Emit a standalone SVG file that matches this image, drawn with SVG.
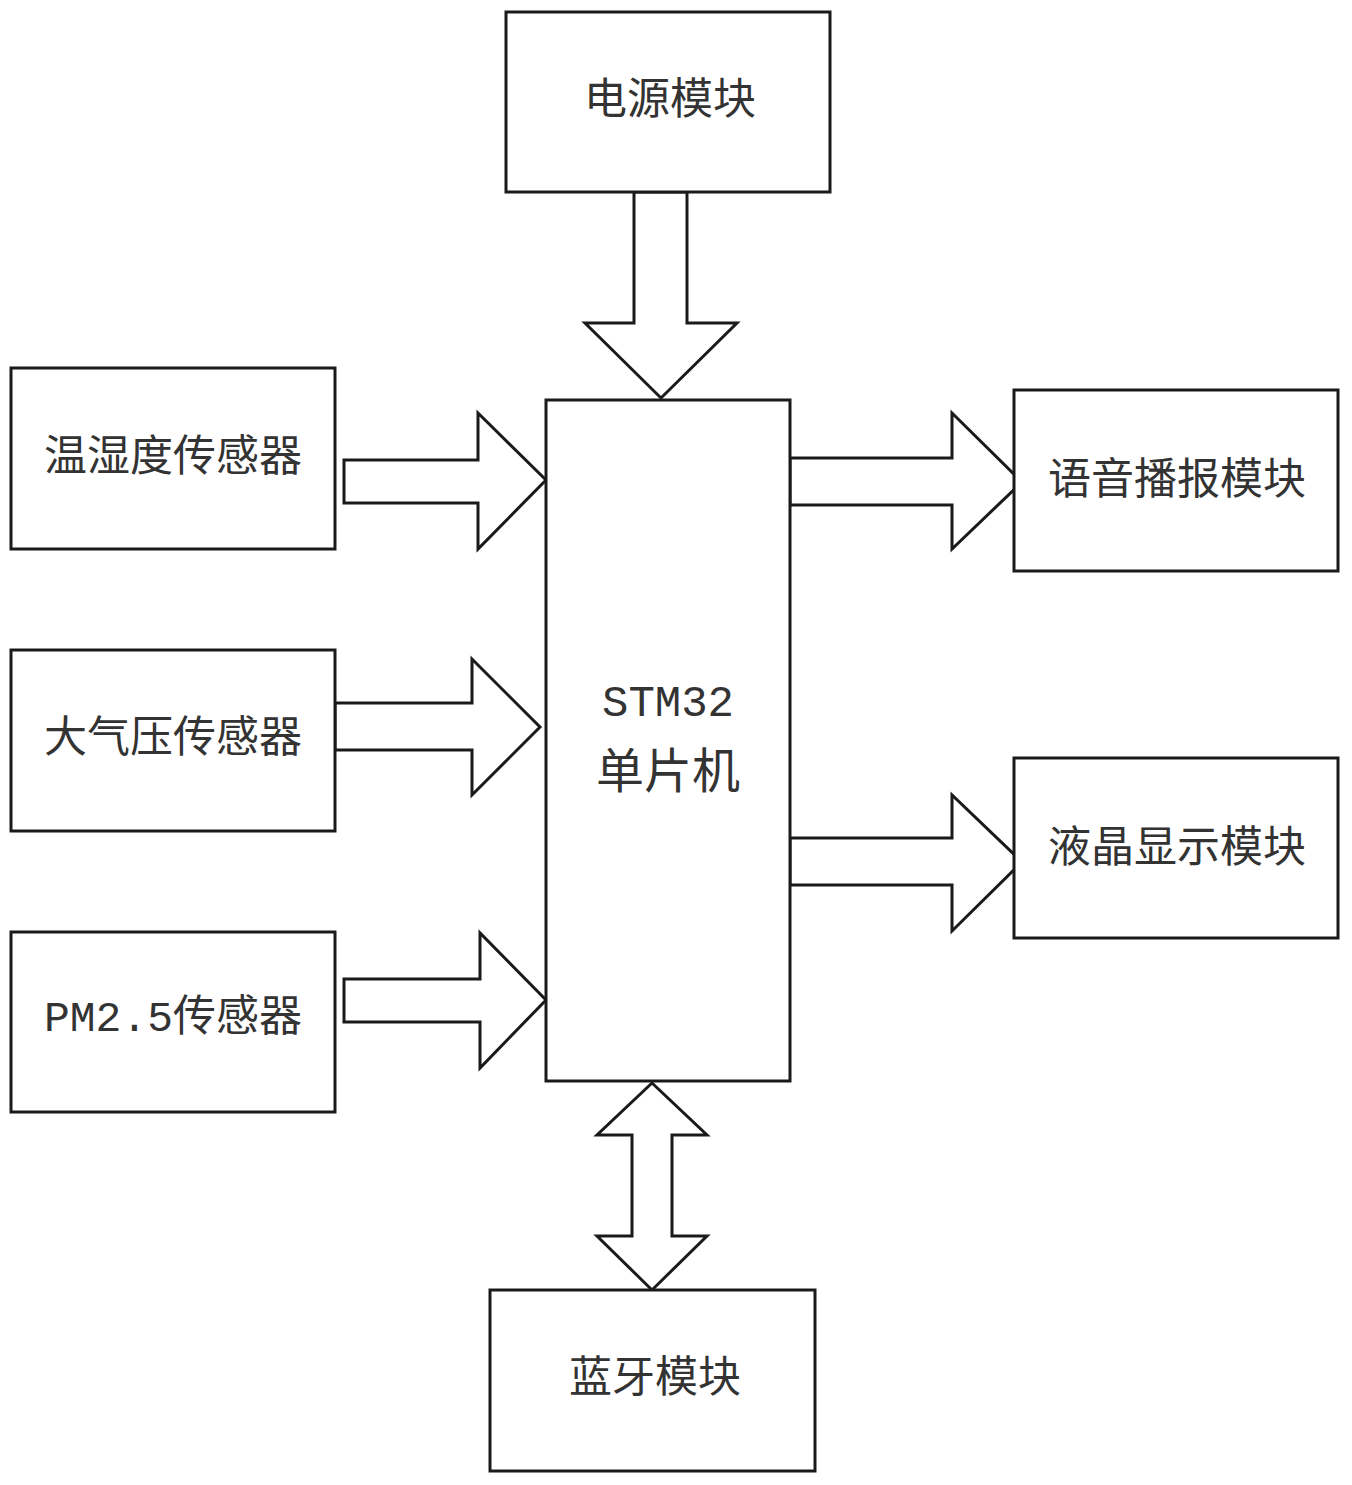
<svg xmlns="http://www.w3.org/2000/svg" width="1352" height="1485" viewBox="0 0 1352 1485">
<style>
.b{fill:#fff;stroke:#1a1a1a;stroke-width:3}
.a{fill:#fff;stroke:#1a1a1a;stroke-width:3;stroke-linejoin:miter}
text{font-family:"Noto Sans CJK SC","Liberation Mono",sans-serif;font-size:43px;fill:#333;text-anchor:middle;dominant-baseline:middle}
.m{font-family:"Liberation Mono","Noto Sans CJK SC",monospace}
</style>
<rect width="1352" height="1485" fill="#fff"/>
<g id="connectors">
<polygon class="a" points="634,192 687,192 687,323 737,323 661,398 585,323 634,323"/>
<polygon class="a" points="344,460 478,460 478,413 546,480 478,549 478,503 344,503"/>
<polygon class="a" points="335,703 472,703 472,659 540,727 472,795 472,750 335,750"/>
<polygon class="a" points="344,979 480,979 480,933 546,1000 480,1068 480,1022 344,1022"/>
<polygon class="a" points="790,458 952,458 952,413 1022,482 952,549 952,505 790,505"/>
<polygon class="a" points="790,838 952,838 952,795 1022,862 952,931 952,885 790,885"/>
<polygon class="a" points="652,1083 707,1135 672,1135 672,1236 707,1236 652,1290 597,1236 632,1236 632,1135 597,1135"/>
</g>
<g id="power"><rect class="b" x="506" y="12" width="324" height="180"/><text x="670" y="102">电源模块</text></g>
<g id="temp"><rect class="b" x="11" y="368" width="324" height="181"/><text x="173" y="459">温湿度传感器</text></g>
<g id="pressure"><rect class="b" x="11" y="650" width="324" height="181"/><text x="173" y="740">大气压传感器</text></g>
<g id="pm25"><rect class="b" x="11" y="932" width="324" height="180"/><text x="173" y="1020" class="m">PM2.5传感器</text></g>
<g id="mcu"><rect class="b" x="546" y="400" width="244" height="681"/><text x="668" y="704" class="m" style="font-size:44px">STM32</text><text x="668" y="775" style="font-size:48px">单片机</text></g>
<g id="voice"><rect class="b" x="1014" y="390" width="324" height="181"/><text x="1177" y="482">语音播报模块</text></g>
<g id="lcd"><rect class="b" x="1014" y="758" width="324" height="180"/><text x="1177" y="850">液晶显示模块</text></g>
<g id="bt"><rect class="b" x="490" y="1290" width="325" height="181"/><text x="655" y="1380">蓝牙模块</text></g>
</svg>
